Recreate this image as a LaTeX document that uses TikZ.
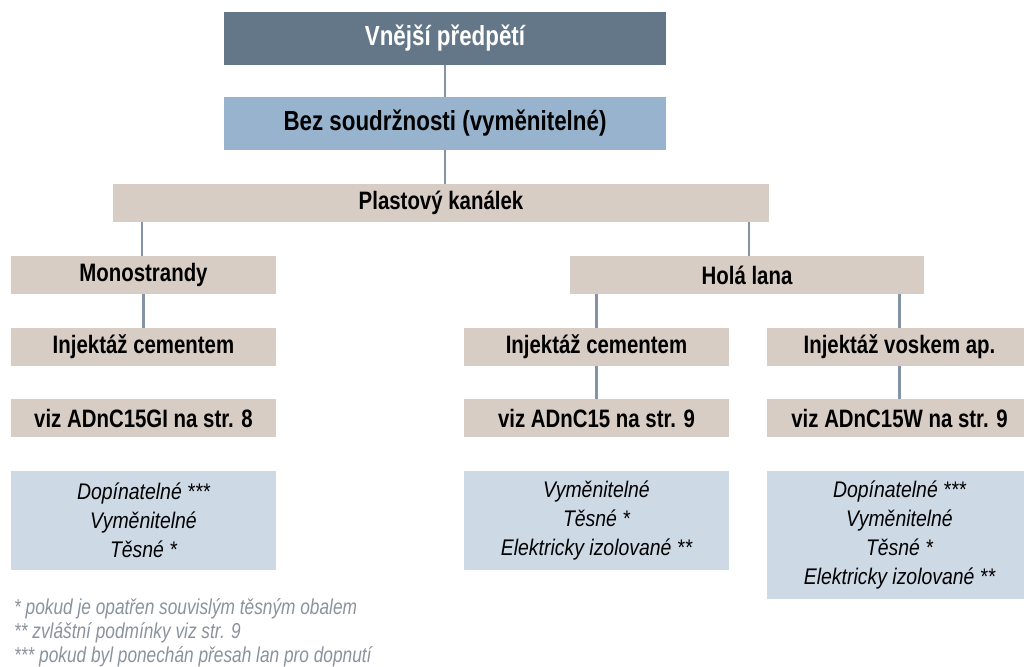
\documentclass[tikz,border=0pt]{standalone}
\usepackage{fontspec}
\setmainfont{Liberation Sans}
\newfontfamily\condfont{Liberation Sans}[FakeStretch=0.81]
\newfontfamily\italfont{Liberation Sans}[FakeStretch=0.86]
\newfontfamily\notefont{Liberation Sans}[FakeStretch=0.80]
\definecolor{topc}{HTML}{647789}
\definecolor{bezc}{HTML}{97B3CE}
\definecolor{beige}{HTML}{D8CDC4}
\definecolor{lblue}{HTML}{CED9E6}
\definecolor{linec}{HTML}{8494A6}
\definecolor{notec}{HTML}{8A939C}
\tikzset{
  box/.style={rectangle, inner sep=0pt, outer sep=0pt, minimum height=38pt, minimum width=265pt, fill=beige,
    font=\condfont\bfseries\fontsize{25.2}{28}\selectfont, text=black},
  bigbox/.style={box, minimum height=53pt, minimum width=442pt, font=\condfont\bfseries\fontsize{27.6}{30}\selectfont},
  infobox/.style={rectangle, inner sep=0pt, outer sep=0pt, minimum width=265pt, fill=lblue, align=center,
    font=\italfont\itshape\fontsize{22.6}{29}\selectfont, text=black},
  note/.style={anchor=base west, inner sep=0pt, font=\notefont\itshape\fontsize{21.6}{26}\selectfont, text=notec},
  conn/.style={draw=linec, line width=2.5pt}
}
\begin{document}
\begin{tikzpicture}[x=1pt, y=-1pt]
\useasboundingbox (0,0) rectangle (1024,666);
\clip (0,0) rectangle (1024,666);
\node[bigbox, fill=topc, text=white] (top) at (445,38.5) {Vnější předpětí};
\node[bigbox, fill=bezc] (bez) at (445,123.5) {Bez soudržnosti (vyměnitelné)};
\node[box, minimum width=656pt] (plast) at (441,203) {Plastový kanálek};
\node[box] (mono) at (143.5,275) {Monostrandy};
\node[box, minimum width=354pt] (hola) at (747,275) {Holá lana};
\node[box] (inja) at (143.5,347) {Injektáž cementem};
\node[box] (injb) at (596.5,347) {Injektáž cementem};
\node[box] (injc) at (899.5,347) {Injektáž voskem ap.};
\node[box] (viza) at (143.5,418) {viz ADnC15GI na str. 8};
\node[box] (vizb) at (596.5,418) {viz ADnC15 na str. 9};
\node[box] (vizc) at (899.5,418) {viz ADnC15W na str. 9};
\node[infobox, minimum height=99pt] (infa) at (143.5,520.5) {Dopínatelné ***\\Vyměnitelné\\Těsné *};
\node[infobox, minimum height=99pt] (infb) at (596.5,520.5) {Vyměnitelné\\Těsné *\\Elektricky izolované **};
\node[infobox, minimum height=128pt] (infc) at (899.5,535) {Dopínatelné ***\\Vyměnitelné\\Těsné *\\Elektricky izolované **};
\node[note] (fn1) at (14,614) {* pokud je opatřen souvislým těsným obalem};
\node[note] (fn2) at (14,638) {** zvláštní podmínky viz str. 9};
\node[note] (fn3) at (14,662) {*** pokud byl ponechán přesah lan pro dopnutí};
\draw[conn] (top.south) -- (bez.north);
\draw[conn] (bez.south) -- (bez.south |- plast.north);
\draw[conn] ([xshift=-1.5pt]mono.north) -- ([xshift=-1.5pt]mono.north |- plast.south);
\draw[conn] ([xshift=2pt]hola.north) -- ([xshift=2pt]hola.north |- plast.south);
\draw[conn] (mono.south) -- (inja.north);
\draw[conn] (injb.north) -- (injb.north |- hola.south);
\draw[conn] (injc.north) -- (injc.north |- hola.south);
\draw[conn] (injb.south) -- (vizb.north);
\draw[conn] (injc.south) -- (vizc.north);
\end{tikzpicture}
\end{document}
